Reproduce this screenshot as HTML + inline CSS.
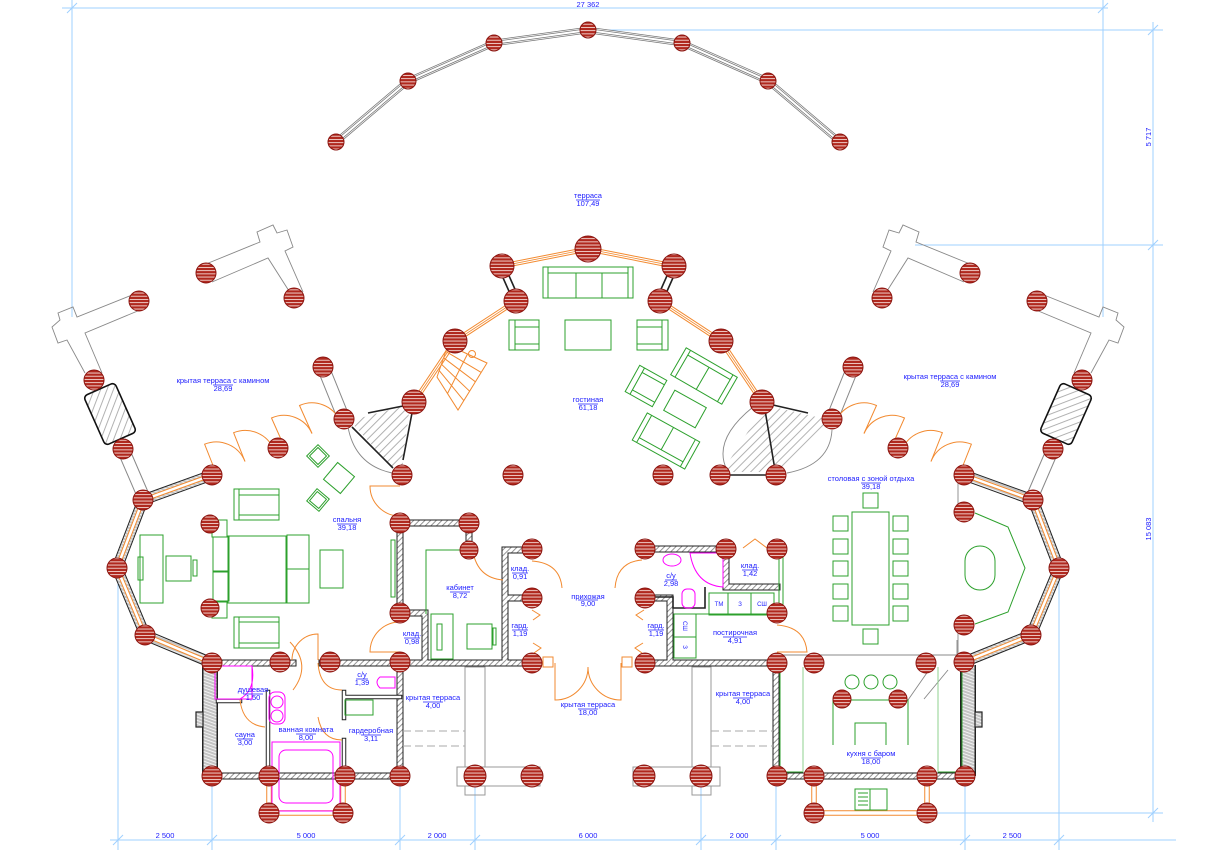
<!DOCTYPE html>
<html><head><meta charset="utf-8">
<style>
html,body{margin:0;padding:0;background:#fff;}
svg{display:block;font-family:"Liberation Sans",sans-serif;}
.c{fill:url(#col);stroke:#8b1510;stroke-width:1;}
.t{font-size:7.5px;fill:#2020ff;text-anchor:middle;}
.d{stroke:#9fd0ff;stroke-width:1;fill:none;}
.g{stroke:#2ca02c;stroke-width:1;fill:none;}
.gl{stroke:#8fd08f;stroke-width:1;fill:none;}
.o{stroke:#f28a30;stroke-width:1;fill:none;}
.m{stroke:#ff00ff;stroke-width:1;fill:none;}
.gr{stroke:#888;stroke-width:0.9;fill:none;}
.k{stroke:#222;stroke-width:1.6;fill:none;}
</style></head>
<body>
<svg width="1216" height="854" viewBox="0 0 1216 854" xmlns="http://www.w3.org/2000/svg">
<defs>
 <pattern id="col" width="5" height="3.2" patternUnits="userSpaceOnUse">
  <rect width="5" height="3.2" fill="#b0281e"/>
  <rect y="1.4" width="5" height="0.9" fill="#f4d8d4"/>
 </pattern>
 <pattern id="h" width="4" height="4" patternUnits="userSpaceOnUse" patternTransform="rotate(45)">
  <rect width="4" height="4" fill="#fff"/><rect width="0.9" height="4" fill="#888"/>
 </pattern>
 <pattern id="hg" width="3" height="3" patternUnits="userSpaceOnUse" patternTransform="rotate(20)">
  <rect width="3" height="3" fill="#c4c4c4"/><rect width="3" height="1" fill="#f2f2f2"/>
 </pattern>
 <pattern id="hf" width="6" height="6" patternUnits="userSpaceOnUse" patternTransform="rotate(45)">
  <rect width="6" height="6" fill="#fff"/><rect width="0.9" height="6" fill="#aaa"/>
 </pattern>
 <path id="w6" d="M400,523 L469,523 M469,523 L469,550 M400,523 L400,613 M400,613 L425,613 L425,660 M505,550 L532,550 M505,550 L505,660 M505,598 L532,598 M212,663 L293,663 M322,663 L532,663 M645,663 L777,663 M645,549 L726,549 L726,587 L777,587 M645,598 L670,598 L670,660 M212,776 L400,776 M400,663 L400,776 M776,663 L776,776 M776,776 L965,776"/>
 <path id="w4" d="M218,701 L240,701 M268,692 L268,776 M344,692 L344,718 M344,740 L344,776 M345,697 L400,697"/>
 <path id="wout" d="M212,475 L143,500 L117,568 L145,635 L212,663 M964,475 L1033,500 L1059,568 L1031,635 L964,662"/>
 <path id="wside" d="M210,665 L210,776 M968,665 L968,776"/>
 <path id="win" d="M414,402 L455,341 L516,301 M502,266 L588,249 L674,266 M660,301 L721,341 L762,402"/>
 <path id="bay" d="M269,776 L269,813 L343,813 L343,776 M814,776 L814,813 L927,813 L927,776"/>
 <path id="arc" d="M336,142 L408,81 L494,43 L588,30 L682,43 L768,81 L840,142"/>
 <path id="beam" d="M323,367 L344,419 M123,449 L145,500 M853,367 L832,419 M1053,449 L1031,500"/>
</defs>

<!-- dimension lines -->
<g class="d">
 <path d="M62,8 L1108,8 M72,0 L72,317 M1103,0 L1103,317 M596,30 L1163,30 M915,245 L1163,245 M1153,22 L1153,822 M937,813 L1163,813"/>
 <path d="M110,840 L1176,840 M118,570 L118,850 M212,786 L212,850 M400,786 L400,850 M475,786 L475,850 M701,786 L701,850 M776,786 L776,850 M965,786 L965,850 M1059,560 L1059,850"/>
 <path d="M67,13 L77,3 M1098,13 L1108,3 M1148,35 L1158,25 M1148,250 L1158,240 M1148,818 L1158,808 M113,845 L123,835 M207,845 L217,835 M395,845 L405,835 M470,845 L480,835 M696,845 L706,835 M771,845 L781,835 M960,845 L970,835 M1054,845 L1064,835"/>
</g>
<g class="t">
 <text x="588" y="7">27 362</text>
 <text x="165" y="838">2 500</text>
 <text x="306" y="838">5 000</text>
 <text x="437" y="838">2 000</text>
 <text x="588" y="838">6 000</text>
 <text x="739" y="838">2 000</text>
 <text x="870" y="838">5 000</text>
 <text x="1012" y="838">2 500</text>
 <text transform="translate(1151,137) rotate(-90)">5 717</text>
 <text transform="translate(1151,529) rotate(-90)">15 083</text>
</g>

<!-- top arc railing -->
<use href="#arc" stroke="#777" stroke-width="6.5" fill="none"/>
<use href="#arc" stroke="#fff" stroke-width="5" fill="none"/>
<use href="#arc" stroke="#777" stroke-width="3.5" fill="none"/>
<use href="#arc" stroke="#fff" stroke-width="2" fill="none"/>

<!-- pergolas -->
<g class="gr">
 <path d="M206,264 L260,242 L257,232 L273,225 L277,233 L287,230 L293,247 L285,251 L303,292 M296,302 L268,258 L212,282"/>
 <path d="M137,293 L77,317 L73,307 L58,313 L60,320 L52,327 L58,343 L67,340 L85,373 M102,373 L85,333 L140,310"/>
 <path d="M970,264 L916,242 L919,232 L903,225 L899,233 L889,230 L883,247 L891,251 L873,292 M880,302 L908,258 L964,282"/>
 <path d="M1039,293 L1099,317 L1103,307 L1118,313 L1116,320 L1124,327 L1118,343 L1109,340 L1091,373 M1074,373 L1091,333 L1036,310"/>
 <path d="M958,480 L958,505 M958,630 L958,655 M780,655 L957,655 M957,640 L957,655 M931,667 L908,700 M948,670 L924,699"/>
</g>
<use href="#beam" stroke="#888" stroke-width="13" fill="none"/>
<use href="#beam" stroke="#fff" stroke-width="11" fill="none"/>

<!-- fireplaces -->
<rect x="-17" y="-27" width="34" height="54" rx="4" transform="translate(110,414) rotate(-24)" fill="url(#hf)" stroke="#111" stroke-width="1.6"/>
<rect x="-17" y="-27" width="34" height="54" rx="4" transform="translate(1066,414) rotate(24)" fill="url(#hf)" stroke="#111" stroke-width="1.6"/>

<!-- hatched triangles by living room -->
<polygon points="350,421 410,404 402,470 393,468" fill="url(#hf)"/>
<path class="k" d="M368,413 L403,406 M412,413 L403,460 M352,427 L393,468"/>
<path class="gr" d="M348,427 Q355,465 392,473"/>
<polygon points="765,405 830,420 778,472 722,472" fill="url(#hf)"/>
<path class="k" d="M773,405 L808,413 M765,410 L775,470 M725,475 L770,475"/>
<path class="gr" d="M753,407 Q712,440 727,470 M832,430 Q830,465 787,473"/>

<!-- living room windows -->
<use href="#win" stroke="#f28a30" stroke-width="5" fill="none"/>
<use href="#win" stroke="#fff" stroke-width="3" fill="none"/>
<use href="#win" stroke="#f28a30" stroke-width="0.8" fill="none"/>
<path class="k" d="M500,271 L512,298 M506,269 L518,296 M676,271 L664,298 M670,269 L658,296"/>

<!-- stair -->
<g class="o" stroke-width="0.9">
 <polygon points="448,345 487,363 458,410 437,377"/>
 <path d="M445.8,351.4 L481.2,372.4 M443.6,357.8 L475.4,381.8 M441.4,364.2 L469.6,391.2 M439.2,370.6 L463.8,400.6 M467.5,354 L447.5,393.5"/>
 <circle cx="472" cy="354" r="3.5"/>
</g>

<!-- outer walls -->
<use href="#wout" stroke="#222" stroke-width="11" fill="none" stroke-linejoin="miter"/>
<use href="#wout" stroke="url(#hg)" stroke-width="9" fill="none"/>
<use href="#wout" stroke="#f28a30" stroke-width="4.5" fill="none"/>
<use href="#wout" stroke="#fff" stroke-width="2.5" fill="none"/>
<use href="#wside" stroke="#222" stroke-width="16" fill="none"/>
<use href="#wside" stroke="url(#hg)" stroke-width="13" fill="none"/>
<rect x="196" y="712" width="7" height="15" fill="url(#hg)" stroke="#222" stroke-width="1.2"/>
<rect x="975" y="712" width="7" height="15" fill="url(#hg)" stroke="#222" stroke-width="1.2"/>

<!-- interior walls -->
<use href="#w6" stroke="#222" stroke-width="7" fill="none" stroke-linecap="square"/>
<use href="#w6" stroke="url(#h)" stroke-width="5" fill="none" stroke-linecap="square"/>
<use href="#w4" stroke="#222" stroke-width="4.5" fill="none" stroke-linecap="square"/>
<use href="#w4" stroke="#fff" stroke-width="2.5" fill="none" stroke-linecap="square"/>
<path class="k" d="M653,597 L673,597 L673,608 L705,608 L705,587"/>

<!-- bay windows -->
<use href="#bay" stroke="#f28a30" stroke-width="5.5" fill="none"/>
<use href="#bay" stroke="#fff" stroke-width="3.5" fill="none"/>

<!-- terraces bottom -->
<g stroke="#999" stroke-width="1" fill="none">
 <rect x="465" y="667" width="20" height="128"/>
 <rect x="457" y="767" width="83" height="19" fill="#fff"/>
 <rect x="692" y="667" width="19" height="128"/>
 <rect x="633" y="767" width="87" height="19" fill="#fff"/>
 <path d="M403,731 L465,731 M403,746 L465,746 M711,731 L773,731 M711,746 L773,746" stroke="#aaa" stroke-dasharray="8 4"/>
</g>

<!-- doors (orange) -->
<g class="o">
 <path d="M216,473 L204.6,444.2 A31,31 0 0 1 245,461.5"/>
 <path d="M245,461.5 L233.6,432.7 A31,31 0 0 1 274,450"/>
 <path d="M284,446 L271.5,418 A30.7,30.7 0 0 1 312,433.5"/>
 <path d="M312,433.5 L299.5,405.5 A30.7,30.7 0 0 1 340,421"/>
 <path d="M960,473 L971.4,444.2 A31,31 0 0 0 931,461.5"/>
 <path d="M931,461.5 L942.4,432.7 A31,31 0 0 0 902,450"/>
 <path d="M892,446 L904.5,418 A30.7,30.7 0 0 0 864,433.5"/>
 <path d="M864,433.5 L876.5,405.5 A30.7,30.7 0 0 0 836,421"/>
 <path d="M400,486 L370,486 A30,30 0 0 0 400,516"/>
 <path d="M400,652 L370,652 A30,30 0 0 1 400,622"/>
 <path d="M318,660 L318,634 A26,26 0 0 0 292,660"/>
 <path d="M290,642 Q312,665 293,690"/>
 <path d="M318,663 Q320,690 342,690"/>
 <path d="M318,717 Q322,740 342,740"/>
 <path d="M240,700 Q243,725 265,727"/>
 <path d="M473,552 Q478,578 503,580"/>
 <path d="M532,561 Q560,563 562,588"/>
 <path d="M615,588 Q617,562 642,560"/>
 <path d="M743,548 L755,539 L767,548"/>
 <path d="M777,625 Q805,627 807,652 L777,652"/>
 <path d="M555,663 L555,700 A33,33 0 0 0 588,667"/>
 <path d="M621,663 L621,700 A33,33 0 0 1 588,667"/>
 <rect x="543" y="657" width="10" height="10"/>
 <rect x="622" y="657" width="10" height="10"/>
 <path d="M532,610 L540,615 L533,620 M533,643 L541,648 L534,653 M644,610 L636,615 L643,620 M643,643 L635,648 L642,653"/>
</g>

<!-- living room furniture -->
<g class="g">
 <rect x="543" y="267" width="90" height="31"/>
 <path d="M548,267 L548,298 M628,267 L628,298 M548,273 L628,273 M576,273 L576,298 M602,273 L602,298"/>
 <rect x="509" y="320" width="30" height="30"/>
 <path d="M515,320 L515,350 M515,327 L539,327 M515,344 L539,344"/>
 <rect x="565" y="320" width="46" height="30"/>
 <rect x="637" y="320" width="31" height="30"/>
 <path d="M662,320 L662,350 M637,327 L662,327 M637,344 L662,344"/>
 <g transform="translate(704,376) rotate(30)">
  <rect x="-29.5" y="-15.5" width="59" height="31"/>
  <path d="M-24.5,-15.5 L-24.5,15.5 M24.5,-15.5 L24.5,15.5 M-24.5,-10 L24.5,-10 M0,-10 L0,15.5"/>
 </g>
 <g transform="translate(646,386) rotate(29)">
  <rect x="-15.5" y="-15" width="31" height="30"/>
  <path d="M-10,-15 L-10,15 M-10,-10 L15.5,-10 M-10,10 L15.5,10"/>
 </g>
 <rect x="-18" y="-11.5" width="36" height="23" transform="translate(685,409) rotate(29)"/>
 <g transform="translate(666,441) rotate(29)">
  <rect x="-30" y="-15.5" width="60" height="31"/>
  <path d="M-25,-15.5 L-25,15.5 M25,-15.5 L25,15.5 M-25,10 L25,10 M0,-15.5 L0,10"/>
 </g>
</g>

<!-- bedroom furniture -->
<g class="g">
 <rect x="234" y="489" width="45" height="31"/>
 <path d="M239,489 L239,520 M239,495 L279,495 M239,515 L279,515"/>
 <rect x="234" y="617" width="45" height="31"/>
 <path d="M239,617 L239,648 M239,622 L279,622 M239,643 L279,643"/>
 <rect x="212" y="520" width="15" height="17"/>
 <rect x="212" y="602" width="15" height="16"/>
 <rect x="228" y="536" width="58" height="67"/>
 <rect x="213" y="537" width="16" height="34"/>
 <rect x="213" y="572" width="16" height="29"/>
 <rect x="287" y="535" width="22" height="68"/>
 <path d="M287,569 L309,569"/>
 <rect x="320" y="550" width="23" height="38"/>
 <rect x="140" y="535" width="23" height="68"/>
 <rect x="138" y="557" width="5" height="23"/>
 <rect x="166" y="556" width="25" height="25"/>
 <rect x="193" y="560" width="4" height="16"/>
 <rect x="391" y="540" width="4" height="57"/>
 <rect x="-8" y="-8" width="16" height="16" transform="translate(318,456) rotate(45)"/>
 <rect x="-6" y="-6" width="12" height="12" transform="translate(318,456) rotate(45)"/>
 <rect x="-11" y="-11" width="22" height="22" transform="translate(339,478) rotate(40)"/>
 <rect x="-8" y="-8" width="16" height="16" transform="translate(318,500) rotate(40)"/>
 <rect x="-6" y="-6" width="12" height="12" transform="translate(318,500) rotate(40)"/>
</g>

<!-- cabinet / hall furniture -->
<g class="g">
 <path d="M426,614 L426,550 L469,550"/>
 <rect x="431" y="614" width="22" height="45"/>
 <rect x="437" y="624" width="5" height="26"/>
 <rect x="467" y="624" width="25" height="25"/>
 <rect x="493" y="628" width="3" height="17"/>
 <rect x="709" y="593" width="65" height="22"/>
 <path d="M728,593 L728,615 M751,593 L751,615"/>
 <rect x="674" y="614" width="22" height="44"/>
 <path d="M674,637 L696,637 M696,614 L777,614"/>
 <rect x="779" y="551" width="4" height="61"/>
 <rect x="345" y="700" width="28" height="15"/>
</g>
<g class="m">
 <ellipse cx="672" cy="560" rx="9" ry="6"/>
 <path d="M690,553 L723,553 L723,587 Q695,585 690,553 Z"/>
 <rect x="682" y="589" width="13" height="19" rx="5"/>
 <rect x="215" y="666" width="37" height="33"/>
 <path d="M252,666 Q256,690 240,699"/>
 <rect x="269" y="692" width="16" height="32" rx="6"/>
 <circle cx="277" cy="702" r="6"/>
 <circle cx="277" cy="716" r="6"/>
 <rect x="272" y="742" width="68" height="69"/>
 <rect x="279" y="750" width="54" height="53" rx="7"/>
 <path d="M380,677 L395,677 L395,688 L380,688 Q374,682 380,677 Z"/>
</g>

<!-- dining / kitchen furniture -->
<g class="g">
 <rect x="852" y="512" width="37" height="113"/>
 <rect x="863" y="493" width="15" height="15"/>
 <rect x="863" y="629" width="15" height="15"/>
 <rect x="833" y="516" width="15" height="15"/><rect x="833" y="539" width="15" height="15"/><rect x="833" y="561" width="15" height="15"/><rect x="833" y="584" width="15" height="15"/><rect x="833" y="606" width="15" height="15"/>
 <rect x="893" y="516" width="15" height="15"/><rect x="893" y="539" width="15" height="15"/><rect x="893" y="561" width="15" height="15"/><rect x="893" y="584" width="15" height="15"/><rect x="893" y="606" width="15" height="15"/>
 <path d="M975,513 L1008,527 L1025,568 L1008,612 L975,624"/>
 <rect x="965" y="546" width="30" height="44" rx="15"/>
 <path d="M780,667 L780,772 L803,772 M962,667 L962,772 L938,772"/>
 <path class="gl" d="M803,667 L803,772 M938,667 L938,772"/>
 <path d="M833,745 L833,700 L908,700 L908,745 M855,745 L855,723 L886,723 L886,745"/>
 <circle cx="852" cy="682" r="7"/><circle cx="871" cy="682" r="7"/><circle cx="890" cy="682" r="7"/>
 <rect x="855" y="789" width="32" height="21"/>
 <path d="M870,789 L870,810 M858,793 L868,793 M858,797 L868,797 M858,801 L868,801 M858,805 L868,805"/>
</g>

<!-- columns -->
<g class="c">
 <circle cx="336" cy="142" r="8"/><circle cx="408" cy="81" r="8"/><circle cx="494" cy="43" r="8"/><circle cx="588" cy="30" r="8"/><circle cx="682" cy="43" r="8"/><circle cx="768" cy="81" r="8"/><circle cx="840" cy="142" r="8"/>
 <circle cx="502" cy="266" r="12"/><circle cx="588" cy="249" r="13"/><circle cx="674" cy="266" r="12"/><circle cx="516" cy="301" r="12"/><circle cx="660" cy="301" r="12"/><circle cx="455" cy="341" r="12"/><circle cx="721" cy="341" r="12"/><circle cx="414" cy="402" r="12"/><circle cx="762" cy="402" r="12"/>
 <circle cx="402" cy="475" r="10"/><circle cx="513" cy="475" r="10"/><circle cx="663" cy="475" r="10"/><circle cx="720" cy="475" r="10"/><circle cx="776" cy="475" r="10"/>
 <circle cx="206" cy="273" r="10"/><circle cx="294" cy="298" r="10"/><circle cx="139" cy="301" r="10"/><circle cx="94" cy="380" r="10"/><circle cx="123" cy="449" r="10"/><circle cx="323" cy="367" r="10"/><circle cx="344" cy="419" r="10"/><circle cx="278" cy="448" r="10"/><circle cx="212" cy="475" r="10"/><circle cx="143" cy="500" r="10"/><circle cx="117" cy="568" r="10"/><circle cx="145" cy="635" r="10"/><circle cx="212" cy="663" r="10"/>
 <circle cx="970" cy="273" r="10"/><circle cx="882" cy="298" r="10"/><circle cx="1037" cy="301" r="10"/><circle cx="1082" cy="380" r="10"/><circle cx="1053" cy="449" r="10"/><circle cx="853" cy="367" r="10"/><circle cx="832" cy="419" r="10"/><circle cx="898" cy="448" r="10"/><circle cx="964" cy="475" r="10"/><circle cx="1033" cy="500" r="10"/><circle cx="1059" cy="568" r="10"/><circle cx="1031" cy="635" r="10"/><circle cx="964" cy="662" r="10"/>
 <circle cx="210" cy="524" r="9"/><circle cx="210" cy="608" r="9"/>
 <circle cx="400" cy="523" r="10"/><circle cx="469" cy="523" r="10"/><circle cx="469" cy="550" r="9"/><circle cx="532" cy="549" r="10"/><circle cx="532" cy="598" r="10"/><circle cx="532" cy="663" r="10"/><circle cx="400" cy="613" r="10"/><circle cx="400" cy="662" r="10"/>
 <circle cx="645" cy="549" r="10"/><circle cx="726" cy="549" r="10"/><circle cx="777" cy="549" r="10"/><circle cx="645" cy="598" r="10"/><circle cx="645" cy="663" r="10"/><circle cx="777" cy="663" r="10"/><circle cx="777" cy="613" r="10"/>
 <circle cx="280" cy="662" r="10"/><circle cx="330" cy="662" r="10"/><circle cx="212" cy="776" r="10"/><circle cx="269" cy="776" r="10"/><circle cx="345" cy="776" r="10"/><circle cx="400" cy="776" r="10"/><circle cx="269" cy="813" r="10"/><circle cx="343" cy="813" r="10"/>
 <circle cx="475" cy="776" r="11"/><circle cx="532" cy="776" r="11"/><circle cx="644" cy="776" r="11"/><circle cx="701" cy="776" r="11"/>
 <circle cx="814" cy="663" r="10"/><circle cx="926" cy="663" r="10"/><circle cx="842" cy="699" r="9"/><circle cx="898" cy="699" r="9"/>
 <circle cx="777" cy="776" r="10"/><circle cx="814" cy="776" r="10"/><circle cx="927" cy="776" r="10"/><circle cx="965" cy="776" r="10"/><circle cx="814" cy="813" r="10"/><circle cx="927" cy="813" r="10"/>
 <circle cx="964" cy="512" r="10"/><circle cx="964" cy="625" r="10"/>
</g>

<!-- labels -->
<g class="t">
 <text x="588" y="198">терраса</text><text x="588" y="206">107,49</text>
 <text x="223" y="383">крытая терраса с камином</text><text x="223" y="391">28,69</text>
 <text x="950" y="379">крытая терраса с камином</text><text x="950" y="387">28,69</text>
 <text x="588" y="402">гостиная</text><text x="588" y="410">61,18</text>
 <text x="347" y="522">спальня</text><text x="347" y="530">39,18</text>
 <text x="460" y="590">кабинет</text><text x="460" y="598">8,72</text>
 <text x="520" y="571">клад.</text><text x="520" y="579">0,91</text>
 <text x="588" y="599">прихожая</text><text x="588" y="606">9,00</text>
 <text x="520" y="628">гард.</text><text x="520" y="636">1,19</text>
 <text x="656" y="628">гард.</text><text x="656" y="636">1,19</text>
 <text x="671" y="578">с/у</text><text x="671" y="586">2,98</text>
 <text x="750" y="568">клад.</text><text x="750" y="576">1,42</text>
 <text x="735" y="635">постирочная</text><text x="735" y="643">4,91</text>
 <text x="412" y="636">клад.</text><text x="412" y="644">0,98</text>
 <text x="871" y="481">столовая с зоной отдыха</text><text x="871" y="489">39,18</text>
 <text x="362" y="677">с/у</text><text x="362" y="685">1,39</text>
 <text x="253" y="692">душевая</text><text x="253" y="700">1,50</text>
 <text x="245" y="737">сауна</text><text x="245" y="745">3,00</text>
 <text x="306" y="732">ванная комната</text><text x="306" y="740">8,00</text>
 <text x="371" y="733">гардеробная</text><text x="371" y="741">3,11</text>
 <text x="433" y="700">крытая терраса</text><text x="433" y="708">4,00</text>
 <text x="588" y="707">крытая терраса</text><text x="588" y="715">18,00</text>
 <text x="743" y="696">крытая терраса</text><text x="743" y="704">4,00</text>
 <text x="871" y="756">кухня с баром</text><text x="871" y="764">18,00</text>
 <text x="719" y="606" style="font-size:6px">ТМ</text>
 <text x="740" y="606" style="font-size:6px">З</text>
 <text x="762" y="606" style="font-size:6px">СШ</text>
 <text transform="translate(683,626) rotate(90)" style="font-size:6px">СШ</text>
 <text transform="translate(683,647) rotate(90)" style="font-size:6px">З</text>
</g>
<path stroke="#2020ff" stroke-width="0.8" fill="none" d="M576,200 L600,200 M213,385 L233,385 M940,381 L960,381 M578,404 L598,404 M337,524 L357,524 M450,592 L470,592 M512,573 L528,573 M578,600 L598,600 M512,630 L528,630 M648,630 L664,630 M665,580 L677,580 M742,570 L758,570 M723,637 L747,637 M404,638 L420,638 M861,483 L881,483 M356,679 L368,679 M243,694 L263,694 M237,739 L253,739 M296,734 L316,734 M361,735 L381,735 M423,702 L443,702 M578,709 L598,709 M733,698 L753,698 M861,758 L881,758"/>
</svg>
</body></html>
